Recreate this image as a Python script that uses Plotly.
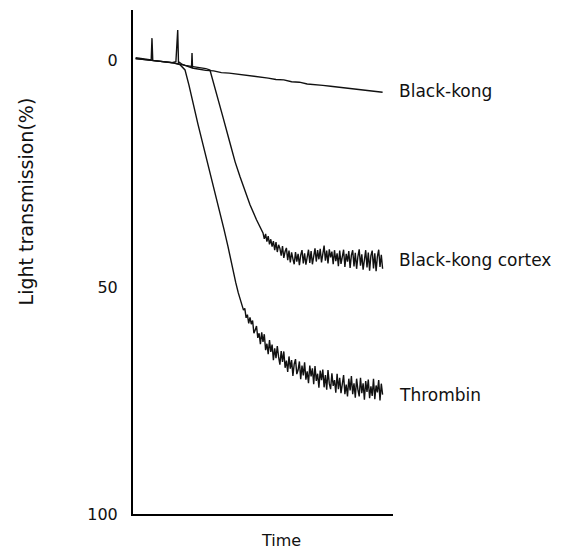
import plotly.graph_objects as go

# ---- data (time in arbitrary units 0-100, light transmission in %) ----
bk_t = [1, 3, 5, 7, 7.3, 7.6, 9, 11, 13, 15, 16.5, 17.2, 17.5, 17.8, 19, 21, 22.5, 22.7, 22.9,
        25, 28, 31, 34, 37, 40, 43, 46, 49, 52, 55, 58, 61, 64, 67, 70, 73, 76, 79, 82, 85,
        88, 91, 94, 96]
bk_y = [-0.5, -0.3, -0.2, 0.0, -4.8, 0.1, 0.2, 0.3, 0.5, 0.6, 0.4, -6.6, 0.8, 0.5, 1.0, 1.4,
        1.7, -1.5, 1.8, 2.0, 2.3, 2.4, 2.8, 2.9, 3.1, 3.4, 3.5, 3.8, 4.0, 4.3, 4.4, 4.8, 4.9,
        5.3, 5.4, 5.6, 5.8, 6.0, 6.3, 6.4, 6.7, 6.8, 7.0, 7.1]

thr_t = [1, 5, 10, 15, 18, 20, 21.5, 23, 25, 27, 29, 31, 33, 35, 36.5,
         37.5, 38.5, 39.5, 40.5, 41.5, 42.0,
         42.5, 43, 43.5, 44, 44.5, 45, 45.5, 46, 46.5, 47, 47.5, 48, 48.5, 49, 49.5, 50,
         50.5, 51, 51.5, 52, 52.5, 53, 53.5, 54, 54.5, 55, 55.5, 56, 56.5, 57, 57.5, 58,
         58.5, 59, 59.5, 60, 60.5, 61, 61.5, 62, 62.5, 63, 63.5, 64, 64.5, 65, 65.5, 66,
         66.5, 67, 67.5, 68, 68.5, 69, 69.5, 70, 70.5, 71, 71.5, 72, 72.5, 73, 73.5, 74,
         74.5, 75, 75.5, 76, 76.5, 77, 77.5, 78, 78.5, 79, 79.5, 80, 80.5, 81, 81.5, 82,
         82.5, 83, 83.5, 84, 84.5, 85, 85.5, 86, 86.5, 87, 87.5, 88, 88.5, 89, 89.5, 90,
         90.5, 91, 91.5, 92, 92.5, 93, 93.5, 94, 94.5, 95, 95.5, 96]
thr_y = [-0.3, 0.0, 0.3, 0.6, 1.0, 2.2, 5.5, 9.5, 14.2, 18.8, 23.3, 27.9, 32.6, 37.3, 41.0,
         43.8, 46.6, 49.0, 51.3, 53.1, 54.0,
         55.1, 54.7, 56.8, 56.1, 58.0, 56.7, 58.2, 57.4, 60.2, 59.5, 58.6, 61.2, 60.2, 62.6,
         60.0, 62.1, 60.4, 63.9, 62.5, 64.8, 61.7, 64.3, 62.7, 66.1, 63.5, 65.7, 63.0, 65.4,
         67.1, 64.1, 66.5, 64.2, 67.8, 66.2, 68.7, 65.3, 68.0, 66.1, 69.6, 67.0, 65.9, 69.2,
         68.3, 66.4, 70.3, 67.3, 69.5, 66.6, 70.4, 68.6, 71.2, 67.3, 69.7, 67.9, 71.4, 67.4,
         70.7, 69.1, 72.2, 68.4, 70.5, 68.2, 72.1, 69.4, 72.6, 68.3, 71.3, 72.5, 69.0, 71.8,
         70.5, 73.3, 69.1, 72.5, 70.0, 73.4, 70.7, 69.4, 73.6, 71.5, 74.1, 70.2, 72.8, 69.6,
         73.6, 71.2, 74.4, 70.2, 72.6, 74.1, 70.0, 73.4, 71.2, 74.8, 70.7, 73.1, 70.4, 74.5,
         71.9, 74.0, 70.2, 74.7, 71.7, 73.2, 70.5, 75.0, 71.3, 73.7]

ctx_t = [1, 5, 10, 15, 20, 25, 28, 29.6, 31, 32.7, 34.6, 37.3, 39.3, 41.2, 43, 45, 47.5,
         50, 50.5, 51, 51.5, 52, 52.5, 53, 53.5, 54, 54.5, 55, 55.5, 56, 56.5, 57, 57.5,
         58, 58.5, 59, 59.5, 60, 60.5, 61, 61.5, 62, 62.5, 63, 63.5, 64, 64.5, 65, 65.5,
         66, 66.5, 67, 67.5, 68, 68.5, 69, 69.5, 70, 70.5, 71, 71.5, 72, 72.5, 73, 73.5,
         74, 74.5, 75, 75.5, 76, 76.5, 77, 77.5, 78, 78.5, 79, 79.5, 80, 80.5, 81, 81.5,
         82, 82.5, 83, 83.5, 84, 84.5, 85, 85.5, 86, 86.5, 87, 87.5, 88, 88.5, 89, 89.5,
         90, 90.5, 91, 91.5, 92, 92.5, 93, 93.5, 94, 94.5, 95, 95.5, 96]
ctx_y = [-0.3, 0.0, 0.3, 0.6, 1.2, 1.6, 1.9, 2.2, 5.0, 8.8, 12.6, 18.3, 22.5, 25.8, 28.9,
         31.9, 35.2,
         38.1, 39.4, 38.3, 40.0, 38.8, 40.6, 39.5, 41.1, 39.9, 41.9, 40.1, 42.3, 40.7, 41.5,
         43.1, 41.0, 43.6, 42.2, 41.4, 44.1, 42.0, 44.6, 42.4, 43.8, 45.0, 42.3, 44.4, 42.7,
         45.2, 43.0, 41.9, 44.8, 42.6, 45.1, 43.4, 41.8, 44.7, 42.1, 45.0, 42.9, 41.5, 44.4,
         41.9, 43.9, 41.6, 44.6, 42.4, 40.9, 44.2, 42.0, 44.8, 41.7, 43.5, 42.2, 45.0, 41.9,
         44.3, 42.6, 45.4, 42.0, 44.9, 43.1, 41.8, 45.6, 42.7, 44.4, 42.1, 45.8, 43.0, 41.9,
         45.5, 42.5, 46.0, 43.3, 41.7, 45.3, 42.8, 46.2, 43.6, 41.9, 45.7, 42.4, 46.4, 43.1,
         42.0, 45.9, 42.6, 46.5, 43.3, 41.8, 45.6, 42.9, 46.0]

series_names = ["Black-kong", "Black-kong cortex", "Thrombin"]
label_y = [6.8, 44.0, 73.8]
tick_vals = [0, 50, 100]
tick_text = ["0", "50", "100"]

FONT = "DejaVu Sans"
LINE = dict(color="#111111", width=1.4)

fig = go.Figure()
for t, y in [(bk_t, bk_y), (ctx_t, ctx_y), (thr_t, thr_y)]:
    fig.add_trace(go.Scatter(x=t, y=y, mode="lines", line=LINE, showlegend=False,
                             hoverinfo="skip"))

for name, ly in zip(series_names, label_y):
    fig.add_annotation(x=1.015, y=ly, xref="paper", yref="y", text=name, showarrow=False,
                       xanchor="left", yanchor="middle",
                       font=dict(family=FONT, size=17, color="#111111"))

fig.add_annotation(x=-0.41, y=0.621, xref="paper", yref="paper",
                   text="Light transmission(%)", textangle=-90, showarrow=False,
                   xanchor="center", yanchor="middle",
                   font=dict(family=FONT, size=19, color="#111111"))
fig.add_annotation(x=0.569, y=-0.052, xref="paper", yref="paper", text="Time",
                   showarrow=False, xanchor="center", yanchor="middle",
                   font=dict(family=FONT, size=16, color="#111111"))

fig.update_xaxes(range=[0, 100], showgrid=False, zeroline=False, showticklabels=False,
                 ticks="", showline=True, linecolor="#000000", linewidth=2)
fig.update_yaxes(range=[100, -11], showgrid=False, zeroline=False, ticks="",
                 tickvals=tick_vals, ticktext=tick_text, ticklabelstandoff=10,
                 tickfont=dict(family=FONT, size=16, color="#111111"),
                 showline=True, linecolor="#000000", linewidth=2)

fig.update_layout(width=560, height=542, margin=dict(l=125, r=175, t=2, b=36),
                  plot_bgcolor="white", paper_bgcolor="white", autosize=False)

fig.write_html("out.html")
